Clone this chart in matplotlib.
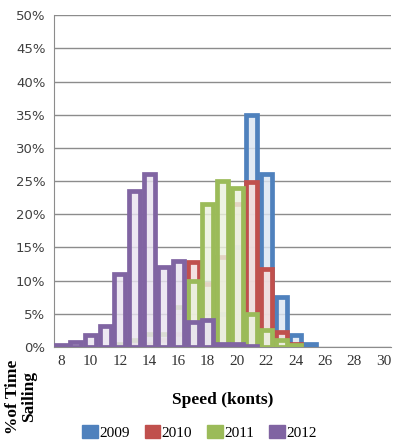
import matplotlib.pyplot as plt
import numpy as np

nan = np.nan
speeds = list(range(8, 31))
tick_labels = [str(s) if s % 2 == 0 else '' for s in speeds]

# % of time sailing per speed (knots), 8..30 (nan = no bar)
y2009 = [0, 0, 0, 0, 0, 0, 0, 0, 0.3, 0.5, 1, 5, 15, 35, 26, 7.5, 1.8, 0.4, nan, nan, nan, nan, nan]
y2010 = [0, 0, 0, 0, 0, 0.3, 0.5, 1, 2, 12.8, 9.5, 13.5, 21.5, 24.8, 11.7, 2.3, 0.5, nan, nan, nan, nan, nan, nan]
y2011 = [0, 0, 0, 0, 0.5, 1, 2, 2, 6, 10, 21.5, 25, 24, 5, 2.5, 1, 0.3, nan, nan, nan, nan, nan, nan]
y2012 = [0.3, 0.7, 1.8, 3.2, 11, 23.5, 26, 12, 13, 3.7, 4, 0.4, 0.4, 0.1, nan, nan, nan, nan, nan, nan, nan, nan, nan]

series = [('2009', y2009, '#4F81BD', '#DCE6F2'),
          ('2010', y2010, '#C0504D', '#F2DCDB'),
          ('2011', y2011, '#9BBB59', '#EBF1DE'),
          ('2012', y2012, '#8064A2', '#E9E4F0')]

fig = plt.figure(figsize=(3.99, 4.46), dpi=100)
ax = fig.add_axes([0.135, 0.222, 0.845, 0.744])

x = np.arange(len(speeds))
for name, vals, col, fill in series:
    fc = plt.matplotlib.colors.to_rgba(fill, 0.82)
    ax.bar(x, vals, width=0.75, facecolor=fc, edgecolor=col,
           linewidth=3.4, label=name, zorder=3)

ax.set_xlim(-0.5, len(speeds) - 0.5)
ax.set_ylim(0, 50)
ax.set_yticks(range(0, 51, 5))
ax.set_yticklabels(['%d%%' % v for v in range(0, 51, 5)],
                   fontname='DejaVu Sans', fontsize=9.5, color='#404040')
ax.set_xticks(x)
ax.set_xticklabels(tick_labels, fontname='Liberation Serif', fontsize=11, color='#333333')
ax.tick_params(length=0, pad=6)
ax.grid(axis='y', color='#8c8c8c', linewidth=1, zorder=0)
ax.set_axisbelow(True)
for s in ['top', 'right']:
    ax.spines[s].set_visible(False)
ax.spines['left'].set_color('#8c8c8c')
ax.spines['bottom'].set_color('#8c8c8c')

fig.text(0.557, 0.103, 'Speed (konts)', ha='center', va='center',
         fontname='Liberation Serif', fontweight='bold', fontsize=12.5)
fig.text(0.053, 0.11, '%of Time\nSailing', ha='center', va='center', rotation=90,
         fontname='Liberation Serif', fontweight='bold', fontsize=12.5, linespacing=1.0)

handles = [plt.Rectangle((0, 0), 1, 1, facecolor=c, edgecolor=c) for _, _, c, _ in series]
fig.legend(handles, [n for n, _, _, _ in series], loc='center', bbox_to_anchor=(0.5, 0.031),
           ncol=4, frameon=False, prop={'family': 'Liberation Serif', 'size': 11},
           handlelength=1.0, handleheight=1.0, handletextpad=0.1, columnspacing=1.0)

fig.savefig('out.png', dpi=100)
